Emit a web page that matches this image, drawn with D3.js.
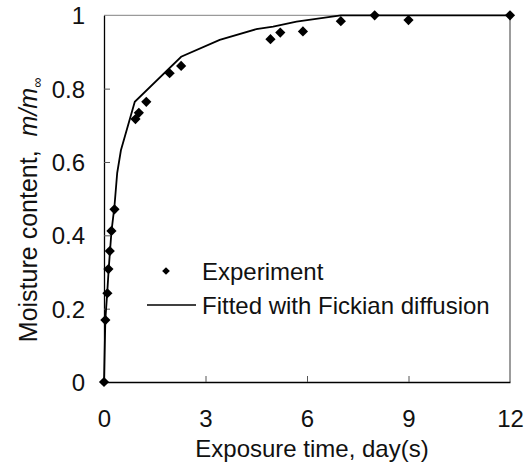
<!DOCTYPE html>
<html>
<head>
<meta charset="utf-8">
<script src="https://cdn.jsdelivr.net/npm/d3@7"></script>
<style>
  html, body { margin: 0; padding: 0; background: #fff; }
  svg { display: block; font-family: Arial, "Liberation Sans", sans-serif; }
</style>
</head>
<body>
<svg id="chart" width="524" height="467"></svg>
<script>
// Moisture uptake: measured points and the Fickian diffusion fit
const expTime  = [0, 0.04, 0.10, 0.13, 0.17, 0.22, 0.31, 0.93, 1.03, 1.25, 1.94, 2.28, 4.92, 5.21, 5.88, 7.0, 8.0, 9.0, 12];
const expValue = [0, 0.169, 0.242, 0.308, 0.357, 0.412, 0.471, 0.717, 0.734, 0.764, 0.842, 0.862, 0.935, 0.953, 0.956, 0.984, 1.0, 0.987, 1.0];

const fitTime  = [0, 0.04, 0.10, 0.14, 0.18, 0.22, 0.31, 0.39, 0.50, 0.91, 2.28, 3.42, 4.50, 5.00, 5.69, 7.0, 12];
const fitValue = [0, 0.17, 0.25, 0.31, 0.36, 0.41, 0.48, 0.57, 0.632, 0.764, 0.887, 0.933, 0.962, 0.969, 0.983, 1.0, 1.0];

const xTicks = [0, 3, 6, 9, 12];
const yTicks = [0, 0.2, 0.4, 0.6, 0.8, 1];

const svg = d3.select("#chart");
const plotLeft = 104, plotRight = 510, plotTop = 15.3, plotBottom = 382;

const x = d3.scaleLinear().domain([0, 12]).range([plotLeft, plotRight]);
const y = d3.scaleLinear().domain([0, 1]).range([plotBottom, plotTop]);

// frame: gray top and right edges
svg.append("line").attr("x1", plotLeft).attr("x2", plotRight).attr("y1", plotTop).attr("y2", plotTop)
  .attr("stroke", "#9a9a9a").attr("stroke-width", 1.2);
svg.append("line").attr("x1", plotRight).attr("x2", plotRight).attr("y1", plotTop).attr("y2", plotBottom)
  .attr("stroke", "#5a5a5a").attr("stroke-width", 1.2);

// axes with inward ticks
const xAxis = svg.append("g").attr("transform", `translate(0,${plotBottom})`)
  .call(d3.axisBottom(x).tickValues(xTicks).tickSize(-6).tickSizeOuter(0).tickPadding(28).tickFormat(d3.format("d")));
const yAxis = svg.append("g").attr("transform", `translate(${plotLeft},0)`)
  .call(d3.axisLeft(y).tickValues(yTicks).tickSize(-6).tickSizeOuter(0).tickPadding(19)
    .tickFormat(d => d === 0 || d === 1 ? d3.format("d")(d) : d3.format(".1f")(d)));

[xAxis, yAxis].forEach(g => {
  g.select(".domain").attr("stroke", "#000").attr("stroke-width", 1.3);
  g.selectAll(".tick line").attr("stroke", "#555").attr("stroke-width", 1);
  g.selectAll(".tick text").attr("fill", "#111").attr("font-size", 24)
    .attr("font-family", "Arial, 'Liberation Sans', sans-serif");
});
xAxis.selectAll(".tick").filter(d => d === 0 || d === 12).select("line").remove();
yAxis.selectAll(".tick").filter(d => d === 0 || d === 1).select("line").remove();
yAxis.selectAll(".tick text").attr("dy", "0.36em");

// fitted curve
const line = d3.line().x((d, i) => x(fitTime[i])).y(d => y(d));
svg.append("path").datum(fitValue).attr("d", line)
  .attr("fill", "none").attr("stroke", "#000").attr("stroke-width", 1.8);

// experiment markers (rotated squares)
svg.append("g").selectAll("path").data(expValue).join("path")
  .attr("transform", (d, i) => `translate(${x(expTime[i])},${y(d)}) rotate(45)`)
  .attr("d", d3.symbol().type(d3.symbolSquare).size(52))
  .attr("fill", "#000");

// legend
const leg = svg.append("g").attr("font-size", 24).attr("fill", "#111");
leg.append("path").attr("transform", "translate(166,271) rotate(45)")
  .attr("d", d3.symbol().type(d3.symbolSquare).size(30)).attr("fill", "#000");
leg.append("text").attr("x", 202).attr("y", 271).attr("dy", "0.36em").text("Experiment");
leg.append("line").attr("x1", 147).attr("x2", 196).attr("y1", 305).attr("y2", 305)
  .attr("stroke", "#000").attr("stroke-width", 1.3);
leg.append("text").attr("x", 202).attr("y", 305).attr("dy", "0.36em").text("Fitted with Fickian diffusion");

// axis titles
svg.append("text").attr("x", 312).attr("y", 448).attr("dy", "0.36em")
  .attr("text-anchor", "middle").attr("font-size", 24).attr("fill", "#111")
  .text("Exposure time, day(s)");

const yt = svg.append("text").attr("transform", "translate(28,210) rotate(-90)")
  .attr("text-anchor", "middle").attr("dy", "0.36em").attr("font-size", 25).attr("fill", "#111");
yt.append("tspan").text("Moisture content,");
yt.append("tspan").attr("font-style", "italic").attr("dx", 14).text("m/m");
yt.append("tspan").attr("font-style", "italic").attr("font-size", 14).attr("dy", "0.35em").text("∞");
</script>
</body>
</html>
